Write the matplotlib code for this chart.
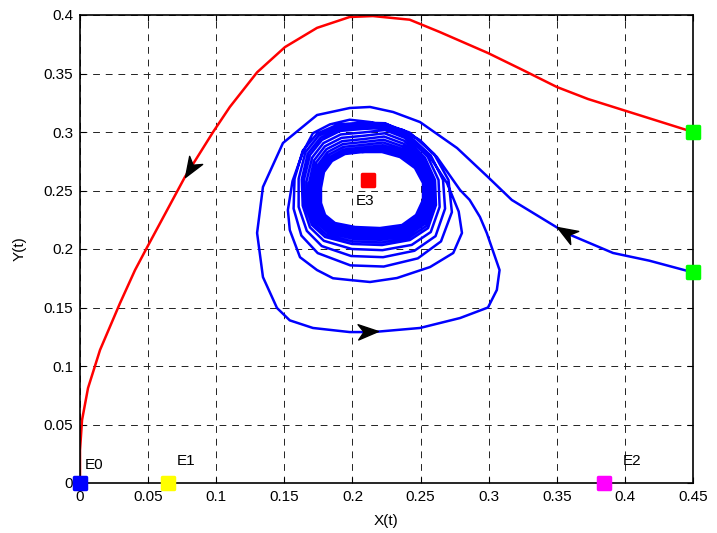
#! /usr/bin/env python3

import numpy as np
import matplotlib
matplotlib.use("Agg")
import matplotlib.pyplot as plt
from matplotlib.path import Path
from matplotlib.markers import MarkerStyle
from matplotlib.transforms import Affine2D


# Phase portrait X(t) vs Y(t) with equilibrium points E0..E3.

# Red trajectory, starting at (0.45, 0.30) and ending at E0.
red_x = [0.45, 0.3986, 0.3729, 0.350, 0.325, 0.2995, 0.264, 0.242, 0.215,
         0.198, 0.174, 0.1505, 0.130, 0.110, 0.0977, 0.077, 0.049, 0.0404,
         0.0294, 0.0147, 0.0059, 0.0015, 0.0, 0.0]
red_y = [0.30, 0.3188, 0.3282, 0.3385, 0.353, 0.3675, 0.3855, 0.396, 0.3991,
         0.3983, 0.389, 0.3726, 0.351, 0.3214, 0.300, 0.2615, 0.2009, 0.182,
         0.1538, 0.1137, 0.0812, 0.0538, 0.028, 0.0]

# Blue trajectory, starting at (0.45, 0.18), spiralling onto the limit cycle.
blue_x = [
    # incoming branch
    0.45, 0.418, 0.3913, 0.3572, 0.317, 0.2995, 0.2768, 0.2496, 0.2298, 0.2129,
    # loop 1
    0.198, 0.174, 0.149, 0.1343, 0.130, 0.1343, 0.1446, 0.154, 0.171, 0.198,
    0.215, 0.2496, 0.279, 0.2995, 0.306, 0.308, 0.2986, 0.2936, 0.286, 0.279,
    0.262, 0.2496, 0.237, 0.213,
    # loop 2
    0.198, 0.1835, 0.171, 0.1637, 0.156, 0.1526, 0.154, 0.1615, 0.174, 0.1857,
    0.198, 0.2129, 0.2327, 0.257, 0.274, 0.2804, 0.278, 0.2694, 0.257, 0.2375,
    0.224,
    # loop 3
    0.2077, 0.1895, 0.1740, 0.1635, 0.1575, 0.1568, 0.1625, 0.1745, 0.1985,
    0.2230, 0.2480, 0.2650, 0.2730, 0.2705, 0.2600, 0.2420, 0.2240,
    # loop 4
    0.2077, 0.1900, 0.1752, 0.1655, 0.1605, 0.1605, 0.1665, 0.1775, 0.1990,
    0.2225, 0.2455, 0.2610, 0.2680, 0.2665, 0.2575, 0.2405, 0.2240,
    # loop 5
    0.2077, 0.1905, 0.1765, 0.1672, 0.1628, 0.1635, 0.1688, 0.1790, 0.1995,
    0.2220, 0.2435, 0.2575, 0.2640, 0.2632, 0.2552, 0.2395, 0.2240,
    # limit cycle band, outer to inner
    0.2077, 0.1909, 0.1776, 0.1688, 0.1644, 0.1652, 0.1703, 0.1799, 0.1997,
    0.2217, 0.2422, 0.2555, 0.2613, 0.2606, 0.2533, 0.2386, 0.2239,
    0.2077, 0.1914, 0.1787, 0.1704, 0.1663, 0.1670, 0.1717, 0.1810, 0.2000,
    0.2215, 0.2413, 0.2542, 0.2599, 0.2593, 0.2522, 0.2380, 0.2236,
    0.2077, 0.1920, 0.1798, 0.1719, 0.1682, 0.1687, 0.1732, 0.1821, 0.2004,
    0.2212, 0.2405, 0.2529, 0.2584, 0.2580, 0.2511, 0.2375, 0.2232,
    0.2077, 0.1925, 0.1809, 0.1733, 0.1699, 0.1703, 0.1745, 0.1831, 0.2007,
    0.2210, 0.2396, 0.2516, 0.2571, 0.2567, 0.2500, 0.2370, 0.2229,
    0.2077, 0.1930, 0.1818, 0.1747, 0.1715, 0.1719, 0.1758, 0.1841, 0.2010,
    0.2208, 0.2389, 0.2505, 0.2559, 0.2556, 0.2491, 0.2365, 0.2226,
    0.2077, 0.1934, 0.1827, 0.1759, 0.1730, 0.1733, 0.1769, 0.1849, 0.2012,
    0.2207, 0.2382, 0.2494, 0.2547, 0.2545, 0.2482, 0.2360, 0.2224,
    0.2077, 0.1938, 0.1835, 0.1770, 0.1744, 0.1746, 0.1780, 0.1857, 0.2015,
    0.2205, 0.2376, 0.2485, 0.2537, 0.2536, 0.2474, 0.2356, 0.2221,
    0.2077, 0.1941, 0.1843, 0.1781, 0.1757, 0.1757, 0.1789, 0.1865, 0.2017,
    0.2203, 0.2370, 0.2476, 0.2527, 0.2527, 0.2466, 0.2353, 0.2219,
    0.2077, 0.1945, 0.1850, 0.1791, 0.1769, 0.1769, 0.1799, 0.1872, 0.2019,
    0.2202, 0.2364, 0.2467, 0.2518, 0.2518, 0.2459, 0.2349, 0.2217,
    0.2077,
]
blue_y = [
    0.18, 0.190, 0.1966, 0.2134, 0.2419, 0.2615, 0.2863, 0.3085, 0.3171, 0.3214,
    0.3205, 0.3145, 0.2906, 0.253, 0.2137, 0.176, 0.1496, 0.139, 0.1325, 0.129,
    0.129, 0.1325, 0.141, 0.150, 0.165, 0.182, 0.2137, 0.2274, 0.242, 0.2504,
    0.2786, 0.293, 0.3017, 0.3085,
    0.3105, 0.3065, 0.299, 0.283, 0.258, 0.2333, 0.2162, 0.193, 0.182, 0.175,
    0.1735, 0.1718, 0.1752, 0.1846, 0.1966, 0.2137, 0.232, 0.2564, 0.2786, 0.3000,
    0.3075,
    0.3080, 0.3065, 0.2985, 0.2840, 0.2600, 0.2345, 0.2115, 0.1965, 0.1860,
    0.1850, 0.1920, 0.2065, 0.2315, 0.2590, 0.2810, 0.2995, 0.3070,
    0.3060, 0.3045, 0.2968, 0.2828, 0.2600, 0.2360, 0.2155, 0.2025, 0.1940,
    0.1930, 0.1985, 0.2110, 0.2345, 0.2590, 0.2800, 0.2980, 0.3050,
    0.3045, 0.3028, 0.2950, 0.2815, 0.2595, 0.2370, 0.2185, 0.2070, 0.2000,
    0.1990, 0.2035, 0.2145, 0.2360, 0.2590, 0.2790, 0.2965, 0.3035,
    0.3026, 0.3009, 0.2932, 0.2803, 0.2590, 0.2376, 0.2205, 0.2103, 0.2043,
    0.2034, 0.2077, 0.2179, 0.2376, 0.2590, 0.2778, 0.2949, 0.3017,
    0.2996, 0.2979, 0.2905, 0.2781, 0.2580, 0.2379, 0.2218, 0.2121, 0.2065,
    0.2056, 0.2096, 0.2196, 0.2382, 0.2586, 0.2765, 0.2925, 0.2989,
    0.2967, 0.2950, 0.2878, 0.2759, 0.2569, 0.2381, 0.2231, 0.2139, 0.2087,
    0.2078, 0.2115, 0.2213, 0.2389, 0.2582, 0.2752, 0.2900, 0.2961,
    0.2939, 0.2922, 0.2853, 0.2739, 0.2560, 0.2383, 0.2243, 0.2155, 0.2107,
    0.2098, 0.2133, 0.2228, 0.2395, 0.2579, 0.2740, 0.2877, 0.2934,
    0.2914, 0.2897, 0.2829, 0.2720, 0.2551, 0.2386, 0.2254, 0.2171, 0.2126,
    0.2117, 0.2150, 0.2243, 0.2401, 0.2575, 0.2729, 0.2856, 0.2910,
    0.2890, 0.2873, 0.2808, 0.2703, 0.2542, 0.2388, 0.2264, 0.2185, 0.2143,
    0.2134, 0.2165, 0.2256, 0.2406, 0.2572, 0.2719, 0.2837, 0.2887,
    0.2868, 0.2851, 0.2788, 0.2687, 0.2535, 0.2390, 0.2274, 0.2198, 0.2159,
    0.2150, 0.2179, 0.2269, 0.2410, 0.2569, 0.2709, 0.2819, 0.2867,
    0.2849, 0.2832, 0.2770, 0.2672, 0.2528, 0.2391, 0.2282, 0.2210, 0.2174,
    0.2165, 0.2192, 0.2280, 0.2415, 0.2567, 0.2701, 0.2802, 0.2848,
    0.2829, 0.2812, 0.2752, 0.2658, 0.2521, 0.2393, 0.2291, 0.2222, 0.2188,
    0.2179, 0.2205, 0.2291, 0.2419, 0.2564, 0.2692, 0.2786, 0.2829,
    0.2829,
]

# Equilibrium points and starting points.
eq_names = ["E0", "E1", "E2", "E3"]
eq_x = [0.0, 0.0646, 0.3846, 0.2114]
eq_y = [0.0, 0.0, 0.0, 0.259]
eq_colors = ["#0000ff", "#ffff00", "#ff00ff", "#ff0000"]
label_x = [0.0037, 0.071, 0.3986, 0.2026]
label_y = [0.0154, 0.0188, 0.0188, 0.241]
start_x = [0.45, 0.45]
start_y = [0.30, 0.18]

# Direction arrows: tip position and a point just behind it on the curve.
arrow_tip_x = [0.0771, 0.350, 0.2187]
arrow_tip_y = [0.2615, 0.2185, 0.1295]
arrow_from_x = [0.0977, 0.3572, 0.198]
arrow_from_y = [0.300, 0.2134, 0.1285]

xticks = [0, 0.05, 0.1, 0.15, 0.2, 0.25, 0.3, 0.35, 0.4, 0.45]
xticklabels = ["0", "0.05", "0.1", "0.15", "0.2", "0.25", "0.3", "0.35", "0.4", "0.45"]
yticks = [0, 0.05, 0.1, 0.15, 0.2, 0.25, 0.3, 0.35, 0.4]
yticklabels = ["0", "0.05", "0.1", "0.15", "0.2", "0.25", "0.3", "0.35", "0.4"]


plt.rcParams["font.family"] = ["Liberation Sans", "DejaVu Sans"]
plt.rcParams["font.size"] = 11

fig = plt.figure(figsize=(7.17, 5.33), dpi=100)
ax = fig.add_axes([80 / 717, 50 / 533, 613 / 717, 468 / 533])

ax.plot(red_x, red_y, color="#ff0000", lw=1.8)
ax.plot(blue_x, blue_y, color="#0000ff", lw=1.8)

ax.set_xlim(0, 0.45)
ax.set_ylim(0, 0.4)
ax.set_xticks(xticks)
ax.set_xticklabels(xticklabels)
ax.set_yticks(yticks)
ax.set_yticklabels(yticklabels)
ax.tick_params(direction="in", length=4, width=0.8, top=True, right=True, pad=5)
ax.grid(True, color="#222222", linestyle=(0, (7, 6)), linewidth=0.7)
ax.set_axisbelow(True)
for s in ax.spines.values():
    s.set_linewidth(1.2)

ax.set_xlabel("X(t)", labelpad=7)
ax.set_ylabel("Y(t)", labelpad=12)

# Arrowheads, rotated along the curve in screen space.
head = Path([(0, 0), (-1, 0.38), (-0.72, 0), (-1, -0.38), (0, 0)],
            [Path.MOVETO, Path.LINETO, Path.LINETO, Path.LINETO, Path.CLOSEPOLY])
for tx, ty, fx, fy in zip(arrow_tip_x, arrow_tip_y, arrow_from_x, arrow_from_y):
    p1 = ax.transData.transform((fx, fy))
    p2 = ax.transData.transform((tx, ty))
    ang = np.arctan2(p2[1] - p1[1], p2[0] - p1[0])
    m = MarkerStyle(head, transform=Affine2D().rotate(ang))
    ax.plot([tx], [ty], marker=m, markersize=29, color="black", ls="none", zorder=4)

sq = MarkerStyle("s", joinstyle="round")
for x, y, c in zip(eq_x, eq_y, eq_colors):
    ax.plot([x], [y], marker=sq, markersize=8, color=c, mec=c, mew=2.5,
            ls="none", clip_on=False, zorder=5)
for x, y in zip(start_x, start_y):
    ax.plot([x], [y], marker=sq, markersize=8, color="#00ff00", mec="#00ff00",
            mew=2.5, ls="none", clip_on=False, zorder=5)
for name, x, y in zip(eq_names, label_x, label_y):
    ax.text(x, y, name, ha="left", va="center", fontsize=11)

fig.savefig("out.png", dpi=100)
